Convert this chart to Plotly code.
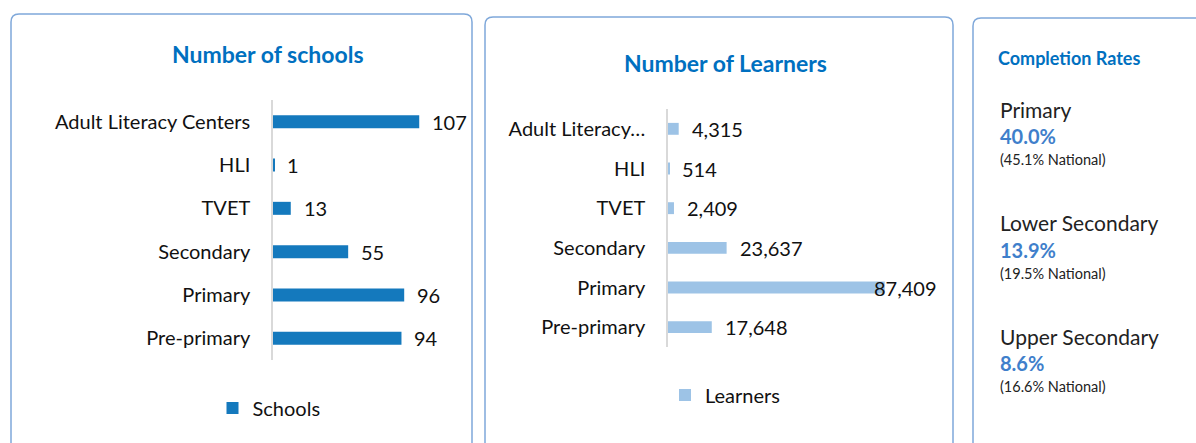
import plotly.graph_objects as go

W, H = 1196, 443

# ---------------- data ----------------
school_categories = ["Adult Literacy Centers", "HLI", "TVET", "Secondary", "Primary", "Pre-primary"]
school_values = [107, 1, 13, 55, 96, 94]

learner_categories = ["Adult Literacy…", "HLI", "TVET", "Secondary", "Primary", "Pre-primary"]
learner_values = [4315, 514, 2409, 23637, 87409, 17648]

completion_levels = ["Primary", "Lower Secondary", "Upper Secondary"]
completion_rates = ["40.0%", "13.9%", "8.6%"]
completion_national = ["(45.1% National)", "(19.5% National)", "(16.6% National)"]

FONT = "Lato"
TXT = "#111111"
TITLE_BLUE = "#0070C0"
SCHOOL_BLUE = "#1479BD"
LEARNER_BLUE = "#9DC3E6"
PCT_BLUE = "#3F7FCB"
BORDER = "#7FA8DA"
LBL = 20


def px(x):
    return x / W


def py(y):
    return 1 - y / H


fig = go.Figure()

fig.add_trace(go.Bar(
    y=school_categories, x=school_values, orientation="h", width=0.3,
    marker=dict(color=SCHOOL_BLUE, line=dict(width=0)), name="Schools",
    xaxis="x", yaxis="y", legend="legend", showlegend=True,
))
fig.add_trace(go.Bar(
    y=learner_categories, x=learner_values, orientation="h", width=0.3,
    marker=dict(color=LEARNER_BLUE, line=dict(width=0)), name="Learners",
    xaxis="x2", yaxis="y2", legend="legend2", showlegend=True,
))

annotations = []
# data labels, schools
for c, v in zip(school_categories, school_values):
    annotations.append(dict(x=v, y=c, xref="x", yref="y", text=str(v), showarrow=False,
                            xanchor="left", xshift=11, font=dict(family=FONT, size=LBL, color=TXT)))
# data labels, learners (clamped to plot edge like Excel)
x2_max = 100000
for c, v in zip(learner_categories, learner_values):
    if v > 0.8 * x2_max:
        annotations.append(dict(x=px(939), y=c, xref="paper", yref="y2", text=f"{v:,}", showarrow=False,
                                xanchor="right", font=dict(family=FONT, size=LBL, color=TXT)))
    else:
        annotations.append(dict(x=v, y=c, xref="x2", yref="y2", text=f"{v:,}", showarrow=False,
                                xanchor="left", xshift=11, font=dict(family=FONT, size=LBL, color=TXT)))

# titles
annotations.append(dict(x=px(268), y=py(54), xref="paper", yref="paper", text="<b>Number of schools</b>",
                        showarrow=False, xanchor="center", yanchor="middle",
                        font=dict(family=FONT, size=23, color=TITLE_BLUE)))
annotations.append(dict(x=px(725), y=py(63), xref="paper", yref="paper", text="<b>Number of Learners</b>",
                        showarrow=False, xanchor="center", yanchor="middle",
                        font=dict(family=FONT, size=23, color=TITLE_BLUE)))
annotations.append(dict(x=px(996), y=py(58), xref="paper", yref="paper", text="<b>Completion Rates</b>",
                        showarrow=False, xanchor="left", yanchor="middle",
                        font=dict(family=FONT, size=18, color=TITLE_BLUE)))

# completion rate blocks
label_y = [109, 223, 336]
for i, (lvl, rate, nat) in enumerate(zip(completion_levels, completion_rates, completion_national)):
    y0 = label_y[i]
    annotations.append(dict(x=px(998), y=py(y0), xref="paper", yref="paper", text=lvl, showarrow=False,
                            xanchor="left", yanchor="middle", font=dict(family=FONT, size=21, color="#222222")))
    annotations.append(dict(x=px(998), y=py(y0 + 27), xref="paper", yref="paper", text=f"<b>{rate}</b>",
                            showarrow=False, xanchor="left", yanchor="middle",
                            font=dict(family=FONT, size=20, color=PCT_BLUE)))
    annotations.append(dict(x=px(998), y=py(y0 + 50), xref="paper", yref="paper", text=nat, showarrow=False,
                            xanchor="left", yanchor="middle", font=dict(family=FONT, size=14.5, color="#222222")))


def panel(x0, x1, yt, yb=470, r=8):
    rx, ry = r / W, r / H
    X0, X1, YT, YB = px(x0), px(x1), py(yt), py(yb)
    return (f"M {X0},{YB} L {X0},{YT - ry} Q {X0},{YT} {X0 + rx},{YT} "
            f"L {X1 - rx},{YT} Q {X1},{YT} {X1},{YT - ry} L {X1},{YB}")


shapes = [
    dict(type="path", xref="paper", yref="paper", path=panel(11, 472, 14), line=dict(color=BORDER, width=1.5)),
    dict(type="path", xref="paper", yref="paper", path=panel(485, 953, 17), line=dict(color=BORDER, width=1.5)),
    dict(type="path", xref="paper", yref="paper", path=panel(973, 1230, 18), line=dict(color=BORDER, width=1.5)),
]

hidden_x = dict(showticklabels=False, showgrid=False, zeroline=False, showline=False, ticks="", fixedrange=True)
cat_y = dict(autorange="reversed", showgrid=False, zeroline=False, showline=True, linecolor="#D9D9D9",
             linewidth=1.5, ticks="", ticklabelstandoff=17,
             tickfont=dict(family=FONT, size=LBL, color=TXT))

fig.update_layout(
    width=W, height=H, margin=dict(l=0, r=0, t=0, b=0),
    paper_bgcolor="white", plot_bgcolor="white",
    font=dict(family=FONT, color=TXT),
    xaxis=dict(domain=[px(273), px(437)], range=[0, 120], anchor="y", **hidden_x),
    yaxis=dict(domain=[py(360), py(100)], anchor="x", **cat_y),
    xaxis2=dict(domain=[px(668), px(916)], range=[0, x2_max], anchor="y2", **hidden_x),
    yaxis2=dict(domain=[py(347), py(109)], anchor="x2", **cat_y),
    legend=dict(x=px(269), y=py(408), xanchor="center", yanchor="middle", orientation="h",
                font=dict(family=FONT, size=LBL, color=TXT), bgcolor="rgba(0,0,0,0)", itemwidth=30),
    legend2=dict(x=px(725), y=py(395), xanchor="center", yanchor="middle", orientation="h",
                 font=dict(family=FONT, size=LBL, color=TXT), bgcolor="rgba(0,0,0,0)", itemwidth=30),
    annotations=annotations, shapes=shapes, bargap=0.7,
)

fig.write_html("out.html", post_script="document.body.style.margin='0';",
               config={"displayModeBar": False})
